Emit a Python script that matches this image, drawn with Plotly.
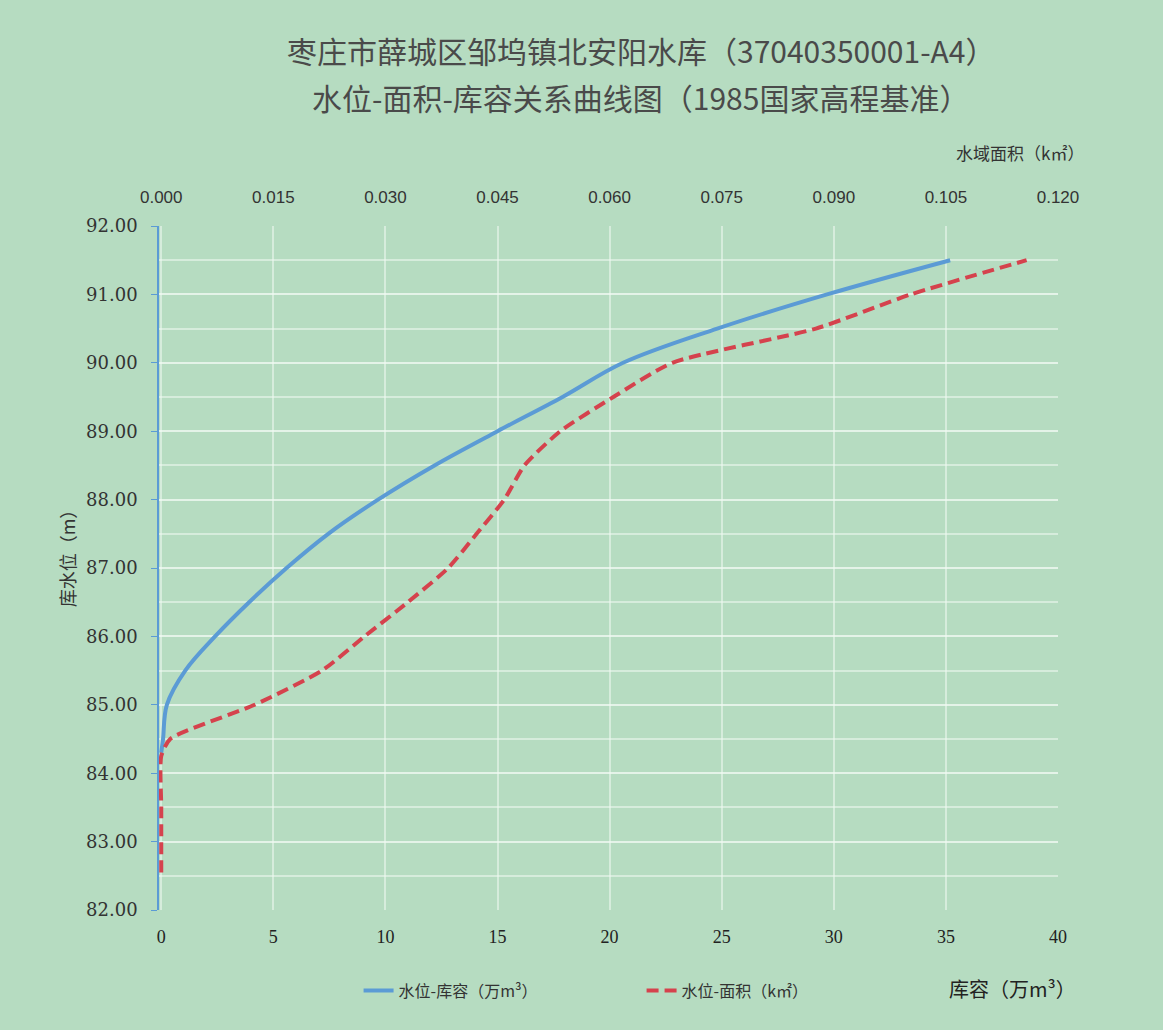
import plotly.graph_objects as go

# --- data ---
stage_storage = [84.3, 84.5, 85.0, 85.5, 86.0, 86.5, 87.0, 87.5, 88.0, 88.5, 89.0, 89.5, 90.0, 90.5, 91.0, 91.5]
storage = [0.0, 0.08, 0.25, 1.07, 2.40, 3.92, 5.59, 7.45, 9.67, 12.19, 15.0, 17.9, 20.6, 24.8, 29.7, 35.19]

stage_area = [82.55, 83.5, 84.25, 84.5, 85.0, 85.5, 86.0, 86.5, 87.0, 87.5, 88.0, 88.5, 89.0, 89.5, 90.0, 90.5, 91.0, 91.5]
area = [0.0, 0.0, 0.0, 0.0012, 0.0125, 0.0215, 0.0272, 0.0330, 0.0384, 0.0422, 0.0459, 0.0486, 0.0534, 0.0605, 0.0684, 0.0876, 0.1003, 0.1158]

x_ticks = [0, 5, 10, 15, 20, 25, 30, 35, 40]
x2_ticks = [0.000, 0.015, 0.030, 0.045, 0.060, 0.075, 0.090, 0.105, 0.120]
y_ticks = [82, 83, 84, 85, 86, 87, 88, 89, 90, 91, 92]

title_1 = "枣庄市薛城区邹坞镇北安阳水库（37040350001-A4）"
title_2 = "水位-面积-库容关系曲线图（1985国家高程基准）"

BG = "#b6dcc1"
GRID = "rgba(240,250,242,0.55)"
BLUE = "#5b9bd5"
RED = "#d5424d"

fig = go.Figure()
fig.add_trace(go.Scatter(
    x=storage, y=stage_storage, mode="lines", name="水位-库容（万m³）",
    line=dict(color=BLUE, width=4, shape="spline", smoothing=1.0),
    xaxis="x", yaxis="y"))
fig.add_trace(go.Scatter(
    x=area, y=stage_area, mode="lines", name="水位-面积（k㎡）",
    line=dict(color=RED, width=4, dash="12px,6px", shape="spline", smoothing=0.6),
    xaxis="x2", yaxis="y"))

fig.update_layout(
    width=1163, height=1030,
    paper_bgcolor=BG, plot_bgcolor=BG,
    margin=dict(l=159, r=105, t=226, b=120),
    showlegend=True,
    legend=dict(orientation="h", x=0.222, xanchor="left", y=-0.118, yanchor="middle",
                bgcolor="rgba(0,0,0,0)", entrywidth=238,
                font=dict(family="Noto Sans CJK SC", size=16, color="#333333")),
    xaxis=dict(range=[-0.1, 40], tickvals=x_ticks, ticktext=[str(v) for v in x_ticks],
               showgrid=True, gridcolor=GRID, gridwidth=1.5, zeroline=False, showline=False,
               ticks="", ticklabelstandoff=14,
               tickfont=dict(family="Liberation Serif", size=18, color="#222222")),
    xaxis2=dict(range=[-0.0003, 0.12], overlaying="x", side="top", anchor="y",
                tickvals=x2_ticks, ticktext=[f"{v:.3f}" for v in x2_ticks],
                showgrid=False, zeroline=False, showline=False, ticks="", ticklabelstandoff=19,
                tickfont=dict(family="Liberation Sans Narrow, Liberation Sans", size=17, color="#333333")),
    yaxis=dict(range=[82, 92], tickvals=y_ticks, ticktext=[f"{v:.2f}" for v in y_ticks],
               showgrid=True, gridcolor=GRID, gridwidth=1.5, zeroline=False,
               showline=True, linecolor=BLUE, linewidth=1.5, layer="below traces",
               ticks="outside", ticklen=6, tickcolor=BLUE, ticklabelstandoff=10,
               minor=dict(dtick=0.5, showgrid=True, gridcolor=GRID, gridwidth=1.5),
               tickfont=dict(family="DejaVu Serif", size=18, color="#333333")),
    annotations=[
        dict(text=title_1, xref="paper", yref="paper", x=0.5, y=1, xshift=32, yshift=176,
             showarrow=False, xanchor="center", yanchor="middle",
             font=dict(family="Noto Sans CJK SC", size=30, color="#4a4a4a")),
        dict(text=title_2, xref="paper", yref="paper", x=0.5, y=1, xshift=32, yshift=129,
             showarrow=False, xanchor="center", yanchor="middle",
             font=dict(family="Noto Sans CJK SC", size=30, color="#4a4a4a")),
        dict(text="水域面积（k㎡）", xref="paper", yref="paper", x=1, y=1, xshift=28, yshift=74,
             showarrow=False, xanchor="right", yanchor="middle",
             font=dict(family="Noto Sans CJK SC", size=17, color="#333333")),
        dict(text="库水位（m）", xref="paper", yref="paper", x=0, y=0.52, xshift=-92,
             showarrow=False, textangle=-90, xanchor="center", yanchor="middle",
             font=dict(family="Noto Sans CJK SC", size=18, color="#333333")),
        dict(text="库容（万m³）", xref="paper", yref="paper", x=1, y=0, xshift=20, yshift=-78,
             showarrow=False, xanchor="right", yanchor="middle",
             font=dict(family="Noto Sans CJK SC", size=20, color="#222222")),
    ],
)

fig.write_html("out.html", config={"displayModeBar": False},
               post_script="document.body.style.margin='0';document.body.style.background='#b6dcc1';")
